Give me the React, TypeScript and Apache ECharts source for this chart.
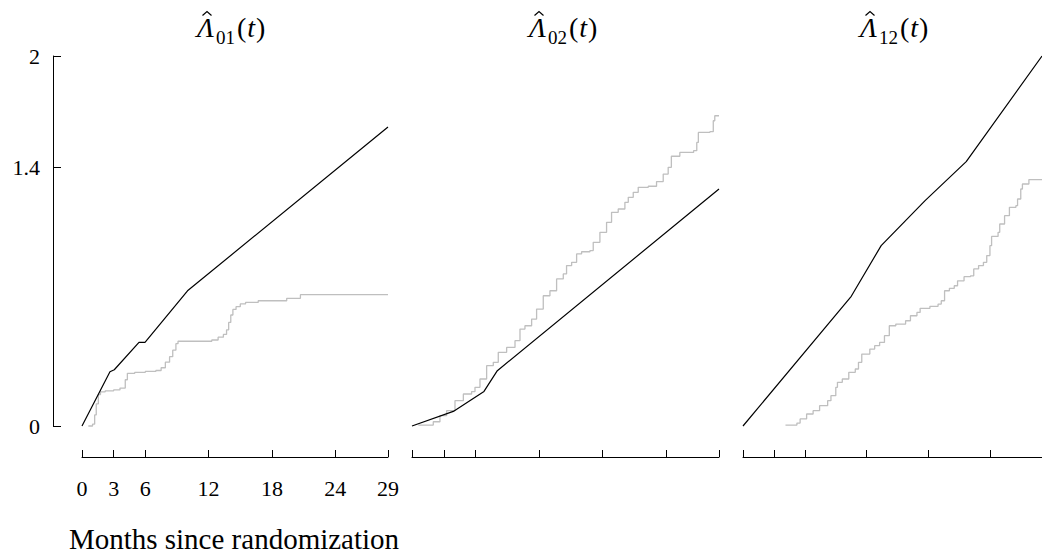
import React, { useEffect, useRef } from "react";
import * as echarts from "echarts";

// ---- data ----
const monthTicks = [0, 3, 6, 12, 18, 24, 29];
const yTicks = [0, 1.4, 2];
const titles = ["01", "02", "12"];

// parametric (black) estimates
const para01 = [[0, 0], [2.65, 0.293], [3.06, 0.304], [5.4, 0.452], [5.97, 0.452], [10.0, 0.731], [29, 1.616]];
const para02 = [[0, 0], [3.9, 0.079], [6.8, 0.187], [8.06, 0.299], [29, 1.281]];
const para12 = [[0, 0], [10.5, 0.701], [13.4, 0.975], [17.66, 1.218], [21.65, 1.429], [29, 2.0]];

// nonparametric (grey step) estimates
const np01 = [
  [0.6, 0.0], [1.0, 0.01], [1.2, 0.06], [1.35, 0.12], [1.55, 0.17], [1.75, 0.185], [2.2, 0.19], [3.0, 0.195],
  [3.6, 0.205], [4.1, 0.25], [4.3, 0.285], [5.0, 0.29], [6.0, 0.295], [7.0, 0.3], [7.5, 0.315], [7.9, 0.345],
  [8.3, 0.375], [8.6, 0.41], [8.9, 0.445], [9.1, 0.458], [12.3, 0.465], [12.9, 0.48], [13.4, 0.495],
  [13.7, 0.52], [13.9, 0.56], [14.1, 0.6], [14.3, 0.63], [14.6, 0.645], [15.0, 0.66], [15.5, 0.668],
  [16.7, 0.677], [19.4, 0.69], [20.7, 0.71], [29, 0.71],
];
const np02 = [
  [0.6, 0.005], [2.01, 0.023], [2.64, 0.056], [3.27, 0.083], [4.06, 0.137], [4.85, 0.173], [5.63, 0.186],
  [5.95, 0.209], [6.42, 0.254], [7.05, 0.326], [7.68, 0.344], [8.15, 0.398], [8.94, 0.425], [9.73, 0.461],
  [10.2, 0.524], [10.67, 0.542], [11.3, 0.578], [11.77, 0.632], [12.4, 0.704], [13.03, 0.731], [13.66, 0.795],
  [14.29, 0.822], [14.6, 0.867], [15.08, 0.885], [15.55, 0.93], [16.02, 0.942], [16.81, 0.948], [17.12, 0.993],
  [17.75, 1.047], [18.38, 1.101], [18.85, 1.155], [19.48, 1.173], [20.11, 1.209], [20.43, 1.236], [20.9, 1.263],
  [21.37, 1.29], [22.32, 1.296], [23.1, 1.321], [23.73, 1.362], [24.2, 1.398], [24.5, 1.458], [25.3, 1.479],
  [26.6, 1.488], [26.9, 1.533], [27.05, 1.587], [28.14, 1.591], [28.46, 1.65], [28.6, 1.677], [29, 1.677],
];
const np12 = [
  [4.12, 0.005], [5.23, 0.016], [5.54, 0.038], [6.17, 0.065], [6.8, 0.083], [7.43, 0.11], [8.21, 0.137],
  [8.53, 0.164], [9.0, 0.209], [9.16, 0.236], [9.63, 0.254], [10.26, 0.29], [10.89, 0.308], [11.2, 0.344],
  [11.52, 0.389], [12.3, 0.416], [12.77, 0.434], [13.25, 0.452], [13.72, 0.488], [14.19, 0.542], [14.82, 0.551],
  [15.77, 0.569], [16.24, 0.596], [16.87, 0.614], [17.18, 0.636], [18.13, 0.647], [18.92, 0.659], [19.23, 0.677],
  [19.55, 0.731], [20.02, 0.744], [20.49, 0.758], [20.81, 0.785], [21.44, 0.807], [22.07, 0.812], [22.38, 0.849],
  [22.85, 0.867], [23.32, 0.885], [23.64, 0.921], [23.95, 0.975], [24.11, 1.025], [24.74, 1.047], [24.9, 1.092],
  [25.37, 1.137], [25.84, 1.182], [26.47, 1.191], [26.63, 1.227], [26.94, 1.281], [27.1, 1.308], [27.57, 1.308],
  [27.73, 1.332], [29, 1.332],
];

const paraSeries = [para01, para02, para12];
const npSeries = [np01, np02, np12];

const FONT = "'Liberation Serif', 'DejaVu Serif', serif";

export default function App() {
  const ref = useRef<HTMLDivElement>(null);
  useEffect(() => {
    document.body.style.margin = "0";
    if (!ref.current) return;
    const chart = echarts.init(ref.current, undefined, { renderer: "svg" });
    const lefts = [82, 412, 743];
    const widths = [306, 307, 306];
    const grid = lefts.map((l, i) => ({ left: l, top: 56, width: widths[i], height: 370 }));
    const xAxis = lefts.map((_, i) => ({
      gridIndex: i,
      type: "value",
      min: 0,
      max: 29,
      offset: 31,
      axisLine: { show: true, onZero: false, lineStyle: { color: "#000", width: 1 } },
      axisTick: { show: true, inside: true, length: 7, customValues: monthTicks, lineStyle: { color: "#000", width: 1 } },
      axisLabel: { show: i === 0, customValues: monthTicks, margin: 20, fontSize: 22, fontFamily: FONT, color: "#000" },
      splitLine: { show: false },
    }));
    const yAxis = lefts.map((_, i) => ({
      gridIndex: i,
      type: "value",
      min: 0,
      max: 2,
      show: i === 0,
      offset: 29,
      axisLine: { show: true, onZero: false, lineStyle: { color: "#000", width: 1 } },
      axisTick: { show: true, inside: true, length: 8, customValues: yTicks, lineStyle: { color: "#000", width: 1 } },
      axisLabel: { customValues: yTicks, margin: 13, fontSize: 22, fontFamily: FONT, color: "#000" },
      splitLine: { show: false },
    }));
    const series: any[] = [];
    for (let i = 0; i < 3; i++) {
      series.push({
        type: "line",
        xAxisIndex: i,
        yAxisIndex: i,
        data: npSeries[i],
        step: "end",
        symbol: "none",
        lineStyle: { color: "#bfbfbf", width: 1.3 },
        clip: false,
      });
      series.push({
        type: "line",
        xAxisIndex: i,
        yAxisIndex: i,
        data: paraSeries[i],
        symbol: "none",
        lineStyle: { color: "#000", width: 1.2 },
        clip: false,
      });
    }
    const titleLefts = [197, 529, 860];
    const graphic: any[] = [];
    titles.forEach((sub, i) => {
      const x0 = titleLefts[i];
      graphic.push({
        type: "text",
        x: x0,
        y: 27,
        style: {
          text: "\u039B",
          font: `italic 28px ${FONT}`,
          fill: "#000",
          align: "left",
          verticalAlign: "middle",
        },
      });
      // circumflex accent over the Lambda
      graphic.push({
        type: "polyline",
        shape: { points: [[x0 + 5.5, 15.5], [x0 + 10, 11.5], [x0 + 14.5, 15.5]] },
        style: { stroke: "#000", lineWidth: 1.2, fill: null },
      });
      graphic.push({
        type: "text",
        x: x0 + 19,
        y: 37,
        style: {
          text: sub,
          font: `19px ${FONT}`,
          fill: "#000",
          align: "left",
          verticalAlign: "middle",
        },
      });
      graphic.push({
        type: "text",
        x: x0 + 40,
        y: 27,
        style: {
          text: "{p|(}{t|t}{p|)}",
          rich: {
            p: { fontSize: 28, fontFamily: FONT, color: "#000" },
            t: { fontSize: 28, fontStyle: "italic", fontFamily: FONT, color: "#000", padding: [0, 1, 0, 1] },
          },
          align: "left",
          verticalAlign: "middle",
        },
      });
    });
    graphic.push({
      type: "text",
      x: 234,
      y: 539,
      style: {
        text: "Months since randomization",
        font: `29px ${FONT}`,
        fill: "#000",
        align: "center",
        verticalAlign: "middle",
      },
    });
    chart.setOption({
      animation: false,
      backgroundColor: "#fff",
      grid,
      xAxis,
      yAxis,
      series,
      graphic,
    });
    return () => chart.dispose();
  }, []);
  return <div ref={ref} style={{ position: "absolute", left: 0, top: 0, width: 1042, height: 554 }} />;
}
